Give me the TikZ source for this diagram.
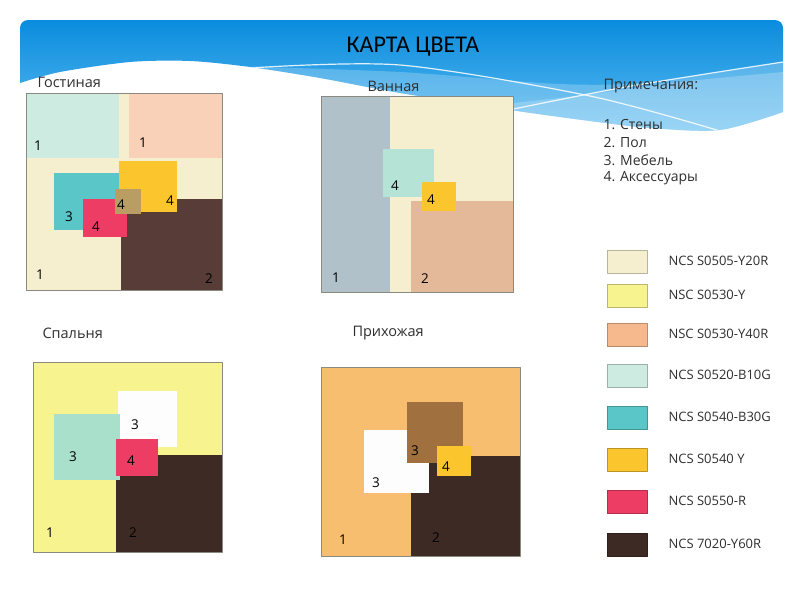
\documentclass[tikz,border=0pt]{standalone}
\usepackage{fontspec}
\setmainfont{Open Sans}
\newfontfamily\titlefont{Carlito}
\definecolor{bannertop}{HTML}{0A8CDE}
\definecolor{bannerlow}{HTML}{5DBCF0}
\definecolor{cream}{HTML}{F6EFCF}
\definecolor{lemon}{HTML}{F7F490}
\definecolor{apricot}{HTML}{F6B98D}
\definecolor{mint}{HTML}{CDEBE1}
\definecolor{teal}{HTML}{5AC6C8}
\definecolor{sun}{HTML}{FBC52E}
\definecolor{rose}{HTML}{EE3D64}
\definecolor{choc}{HTML}{3E2A24}
\definecolor{peach}{HTML}{F9D1B8}
\definecolor{livbrown}{HTML}{573C37}
\definecolor{tan}{HTML}{B99D62}
\definecolor{slate}{HTML}{B1C1C9}
\definecolor{bathmint}{HTML}{B5E3D5}
\definecolor{bathpeach}{HTML}{E4B99A}
\definecolor{sagemint}{HTML}{A9E0CB}
\definecolor{paper}{HTML}{FDFDFD}
\definecolor{orange}{HTML}{F6BE6E}
\definecolor{hallbrown}{HTML}{A0703F}
\definecolor{roomedge}{HTML}{8A8A80}
\definecolor{inkgray}{HTML}{2E2E2E}
\begin{document}
\begin{tikzpicture}[x=1pt,y=-1pt,line join=round,line cap=round,
	room/.style={draw=roomedge,line width=0.7pt},
	num/.style={font=\fontsize{13.5}{13.5}\selectfont,text=black},
	caption/.style={font=\fontsize{14.5}{14.5}\selectfont,text=inkgray,anchor=west},
	legend/.style={font=\fontsize{13}{13}\selectfont,text=inkgray,anchor=west}]
	\useasboundingbox (0,0) rectangle (800,600);
	% banner
	\begin{scope}
		\clip (20,83) -- (20,28) arc[start angle=180,end angle=270,radius=8] -- (775,20)
		arc[start angle=270,end angle=360,radius=8] -- (783,112)
		-- plot[smooth] coordinates {(783,112) (720,130) (650,128) (590,121) (510,110) (400,93) (320,78) (250,67) (190,61) (130,62) (60,72) (20,83)} -- cycle;
		\shade[top color=bannertop,bottom color=bannerlow] (20,20) rectangle (783,135);
		\fill[white,opacity=0.22] plot[smooth] coordinates {(230,66) (400,72) (560,84) (650,82) (783,62)} -- (783,140) -- (230,140) -- cycle;
		\fill[white,opacity=0.22] plot[smooth] coordinates {(420,112) (560,98) (680,82) (783,72)} -- (783,140) -- (420,140) -- cycle;
		\draw[white,line width=1.2pt,opacity=0.85] plot[smooth] coordinates {(250,68) (400,65) (590,96) (720,131)};
		\draw[white,line width=1.2pt,opacity=0.85] plot[smooth] coordinates {(470,118) (620,88) (783,62)};
	\end{scope}
	\node (title) at (413,47) {\titlefont\fontsize{24}{24}\selectfont КАРТА ЦВЕТА};

	% Гостиная
	\fill[cream] (26,93) rectangle (222,290);
	\fill[mint] (26,93) rectangle (119,158);
	\fill[peach] (129,93) rectangle (222,158);
	\fill[livbrown] (121,199) rectangle (222,290);
	\fill[teal] (54,173) rectangle (120,230);
	\fill[sun] (119,161) rectangle (177,212);
	\fill[rose] (83,199) rectangle (127,237);
	\fill[tan] (115,189) rectangle (141,214);
	\draw[room] (26,93) rectangle (222,290);
	\node[caption] (living) at (34,82) {Гостиная};
	\foreach \x/\y/\n [count=\i] in {38/146/1, 143/143/1, 69/217/3, 96/227/4, 121/205/4, 170/201/4, 40/275/1, 209/279/2}
		\node[num] (liv\i) at (\x,\y) {\n};

	% Ванная
	\fill[cream] (321,96) rectangle (513,292);
	\fill[slate] (321,96) rectangle (390,292);
	\fill[bathmint] (383,149) rectangle (434,197);
	\fill[bathpeach] (411,201) rectangle (513,292);
	\fill[sun] (422,182) rectangle (456,211);
	\draw[room] (321,96) rectangle (513,292);
	\node[caption] (bath) at (364,86) {Ванная};
	\foreach \x/\y/\n [count=\i] in {395/186/4, 431/200/4, 336/278/1, 425/279/2}
		\node[num] (bat\i) at (\x,\y) {\n};

	% Спальня
	\fill[lemon] (33,362) rectangle (222,552);
	\fill[paper] (118,391) rectangle (177,447);
	\fill[choc] (116,455) rectangle (222,552);
	\fill[sagemint] (54,414) rectangle (120,480);
	\fill[rose] (116,439) rectangle (158,476);
	\draw[room] (33,362) rectangle (222,552);
	\node[caption] (bed) at (39,333) {Спальня};
	\foreach \x/\y/\n [count=\i] in {135/425/3, 73/457/3, 131/461/4, 50/533/1, 133/533/2}
		\node[num] (bed\i) at (\x,\y) {\n};

	% Прихожая
	\fill[orange] (321,367) rectangle (520,556);
	\fill[choc] (411,456) rectangle (520,556);
	\fill[paper] (364,430) rectangle (429,493);
	\fill[hallbrown] (407,402) rectangle (463,463);
	\fill[sun] (437,446) rectangle (471,476);
	\draw[room] (321,367) rectangle (520,556);
	\node[caption] (hall) at (349,333) {Прихожая};
	\foreach \x/\y/\n [count=\i] in {415/451/3, 376/483/3, 446/467/4, 343/540/1, 436/538/2}
		\node[num] (hal\i) at (\x,\y) {\n};

	% примечания
	\node[caption] (notes) at (600,86) {Примечания:};
	\foreach \t/\y [count=\i] in {1. Стены/125, 2. Пол/143, 3. Мебель/160, 4. Аксессуары/178}
		\node[caption,font=\fontsize{14}{14}\selectfont] (note\i) at (600,\y) {\t};

	% легенда
	\foreach \c/\t/\yy [count=\i] in {cream/NCS S0505-Y20R/250, lemon/NSC S0530-Y/284, apricot/NSC S0530-Y40R/323, mint/NCS S0520-B10G/364, teal/NCS S0540-B30G/406, sun/NCS S0540 Y/448, rose/NCS S0550-R/490, choc/NCS 7020-Y60R/533}{
		\draw[fill=\c,draw=\c!75!black,line width=0.6pt] (607,\yy) rectangle (647,\yy+23);
		\node[legend] (sw\i) at (665,\yy+11) {\t};
	}
\end{tikzpicture}
\end{document}
